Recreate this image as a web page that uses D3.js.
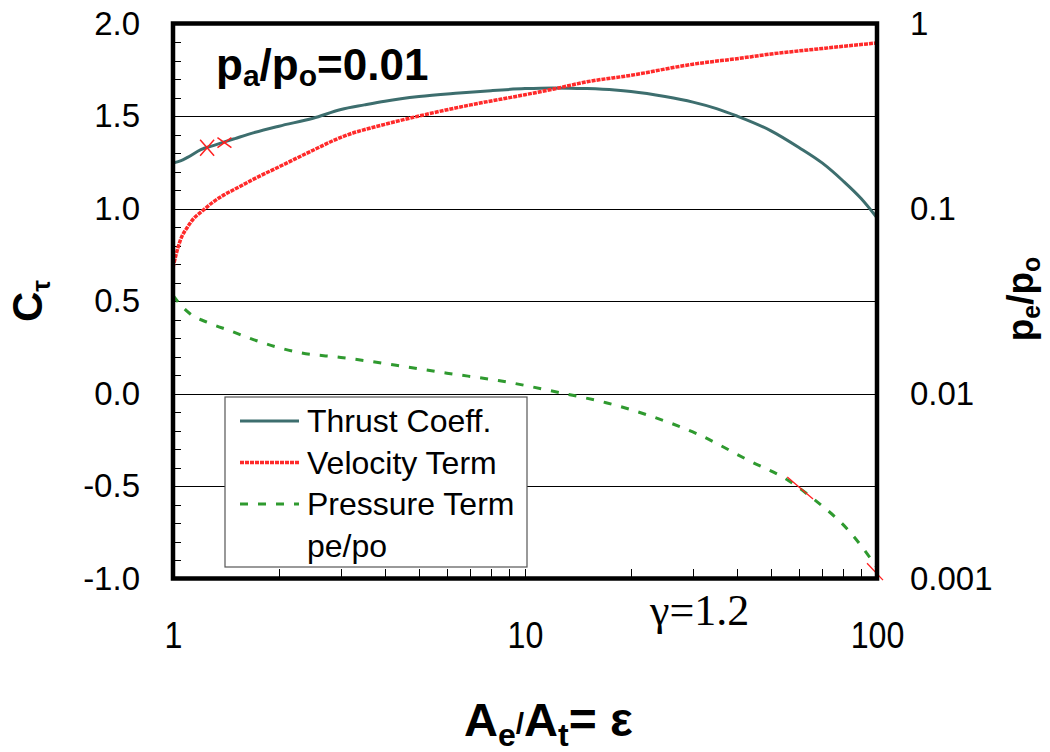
<!doctype html>
<html lang="en">
<head>
	<meta charset="UTF-8">
	<title>Thrust coefficient vs nozzle area ratio</title>
	<style>
		body {
			margin: 0;
			background: #fff;
		}

		svg text {
			font-family: "Liberation Sans", Arial, sans-serif;
			fill: #000;
		}

		.grid line {
			stroke: #000;
			stroke-width: 1;
			shape-rendering: crispEdges;
		}

		.minor line {
			stroke: #000;
			stroke-width: 1;
			shape-rendering: crispEdges;
		}

		.curve {
			fill: none;
			stroke-linejoin: round;
		}
	</style>
</head>
<body>
	<script src="https://cdn.jsdelivr.net/npm/d3@7/dist/d3.min.js"></script>
	<script>
		// ====== data
		var thrustEps = [1, 1.05, 1.1, 1.2, 1.3, 1.4, 1.5, 1.7, 2, 2.5, 3, 3.5, 4, 5, 6.5, 8, 10, 12, 15, 18, 20, 25, 30, 35, 40, 50, 60, 70, 80, 90, 100];
		var thrustCoeff = [1.246, 1.257, 1.276, 1.318, 1.34, 1.36, 1.378, 1.41, 1.445, 1.488, 1.535, 1.56, 1.58, 1.605, 1.624, 1.637, 1.648, 1.652, 1.648, 1.64, 1.632, 1.605, 1.575, 1.54, 1.5, 1.42, 1.33, 1.245, 1.15, 1.055, 0.95];

		var velocityEps = [1, 1.02, 1.05, 1.1, 1.15, 1.2, 1.3, 1.4, 1.5, 1.7, 2, 2.5, 3, 4, 5, 7, 10, 12, 15, 20, 30, 40, 50, 70, 100];
		var velocityTerm = [0.68, 0.75, 0.83, 0.9, 0.95, 0.98, 1.035, 1.075, 1.105, 1.16, 1.225, 1.315, 1.385, 1.455, 1.5, 1.56, 1.615, 1.645, 1.685, 1.72, 1.78, 1.81, 1.835, 1.865, 1.895];

		var pressureEps = [1, 1.05, 1.12, 1.27, 1.45, 1.7, 2.3, 3, 4.4, 6, 8.4, 12.9, 17, 22.6, 31, 43, 56, 66, 83, 100];
		var pressureTerm = [0.53, 0.48, 0.43, 0.38, 0.34, 0.29, 0.22, 0.195, 0.15, 0.11, 0.07, 0, -0.05, -0.12, -0.22, -0.36, -0.47, -0.57, -0.74, -0.94];

		// pe/po only shows up as a few markers and short pieces
		var peMarkEps = [1.25, 1.4];
		var peMarkRatio = [0.213, 0.227];
		var peSegEps = [[55.6, 65.8], [93.7, 104]];
		var peSegRatio = [[0.00354, 0.00269], [0.00121, 0.00098]];

		var leftTickValues = [-1, -0.5, 0, 0.5, 1, 1.5, 2];
		var leftTickLabels = ['-1.0', '-0.5', '0.0', '0.5', '1.0', '1.5', '2.0'];
		var rightTickValues = [0.001, 0.01, 0.1, 1];
		var rightTickLabels = ['0.001', '0.01', '0.1', '1'];
		var xTickValues = [1, 10, 100];
		var xTickLabels = ['1', '10', '100'];
		var gridValues = [-0.5, 0, 0.5, 1, 1.5];

		var legendLabels = ['Thrust Coeff.', 'Velocity Term', 'Pressure Term', 'pe/po'];

		var w = 1050,
			h = 752,
			plotLeft = 173,
			plotRight = 877,
			plotTop = 23.5,
			plotBottom = 578.5;

		var svg = d3.select('body')
			.append('svg')
			.attr('width', w)
			.attr('height', h);

		var xScale = d3.scaleLog()
			.domain([1, 100])
			.range([plotLeft, plotRight]);

		var yLeft = d3.scaleLinear()
			.domain([-1, 2])
			.range([plotBottom, plotTop]);

		var yRight = d3.scaleLog()
			.domain([0.001, 1])
			.range([plotBottom, plotTop]);

		var seriesStyles = [
			{ color: '#3d6e6e', width: 3, dash: null },
			{ color: '#ff2a2a', width: 3.5, dash: '4,1' },
			{ color: '#2f9a2f', width: 3, dash: '8,10' }
		];


		/**
		* zip two arrays into [x, y] pairs
		* @returns {Array}
		*/
		var zip = function(a, b) {
			return a.map(function(d, i) {
				return [d, b[i]];
			});
		};


		/**
		* append text built from pieces [text, size, dy, weight]
		* @returns {d3 selection}
		*/
		var richText = function(parent, pieces) {
			var text = parent.append('text');
			pieces.forEach(function(p) {
				text.append('tspan')
					.attr('font-size', p[1])
					.attr('dy', p[2])
					.attr('font-weight', p[3] || 'normal')
					.text(p[0]);
			});
			return text;
		};


		/**
		* grid lines and minor ticks
		* @returns {undefined}
		*/
		var drawGrid = function() {
			svg.append('g')
				.attr('class', 'grid')
				.attr('transform', 'translate(' + plotLeft + ',0)')
				.call(d3.axisLeft(yLeft)
					.tickValues(gridValues)
					.tickSize(-(plotRight - plotLeft))
					.tickFormat(''))
				.call(function(g) { g.select('.domain').remove(); });

			svg.append('g')
				.attr('class', 'minor')
				.attr('transform', 'translate(' + plotLeft + ',0)')
				.call(d3.axisLeft(yLeft)
					.tickValues(d3.range(-10, 21).map(function(d) { return d / 10; }))
					.tickSize(-8)
					.tickFormat(''))
				.call(function(g) { g.select('.domain').remove(); });

			var xMinor = [];
			[1, 10].forEach(function(dec) {
				for (var k = 2; k <= 10; k++) {
					xMinor.push(k * dec);
				}
			});

			svg.append('g')
				.attr('class', 'minor')
				.attr('transform', 'translate(0,' + plotBottom + ')')
				.call(d3.axisBottom(xScale)
					.tickValues(xMinor)
					.tickSize(-10)
					.tickFormat(''))
				.call(function(g) { g.select('.domain').remove(); });
		};


		/**
		* axis tick labels
		* @returns {undefined}
		*/
		var drawAxes = function() {
			var left = svg.append('g')
				.attr('transform', 'translate(' + plotLeft + ',0)')
				.call(d3.axisLeft(yLeft)
					.tickValues(leftTickValues)
					.tickSize(0)
					.tickPadding(33)
					.tickFormat(function(d, i) { return leftTickLabels[i]; }));

			var right = svg.append('g')
				.attr('transform', 'translate(' + plotRight + ',0)')
				.call(d3.axisRight(yRight)
					.tickValues(rightTickValues)
					.tickSize(0)
					.tickPadding(33)
					.tickFormat(function(d, i) { return rightTickLabels[i]; }));

			var bottom = svg.append('g')
				.attr('transform', 'translate(0,' + plotBottom + ')')
				.call(d3.axisBottom(xScale)
					.tickValues(xTickValues)
					.tickSize(0)
					.tickPadding(43)
					.tickFormat(function(d, i) { return xTickLabels[i]; }));

			[left, right, bottom].forEach(function(g) {
				g.select('.domain').remove();
				g.selectAll('text')
					.attr('font-size', 33)
					.attr('fill', '#000');
			});

			bottom.selectAll('text')
				.attr('font-size', 37)
				.attr('transform', 'scale(0.87,1)');
		};


		/**
		* draw the three curves and the pe/po pieces
		* @returns {undefined}
		*/
		var drawCurves = function() {
			var line = d3.line()
				.x(function(d) { return xScale(d[0]); })
				.y(function(d) { return yLeft(d[1]); })
				.curve(d3.curveMonotoneX);

			var series = [
				zip(thrustEps, thrustCoeff),
				zip(velocityEps, velocityTerm),
				zip(pressureEps, pressureTerm)
			];

			svg.selectAll('path.curve')
				.data(series)
				.enter()
				.append('path')
				.attr('class', 'curve')
				.attr('d', line)
				.attr('stroke', function(d, i) { return seriesStyles[i].color; })
				.attr('stroke-width', function(d, i) { return seriesStyles[i].width; })
				.attr('stroke-dasharray', function(d, i) { return seriesStyles[i].dash; });

			var peLine = d3.line()
				.x(function(d) { return xScale(d[0]); })
				.y(function(d) { return yRight(d[1]); });

			svg.selectAll('path.pe-seg')
				.data(peSegEps.map(function(e, i) { return zip(e, peSegRatio[i]); }))
				.enter()
				.append('path')
				.attr('class', 'pe-seg')
				.attr('d', peLine)
				.attr('fill', 'none')
				.attr('stroke', '#ff2020')
				.attr('stroke-width', 1.3);

			svg.selectAll('path.pe-mark')
				.data(zip(peMarkEps, peMarkRatio))
				.enter()
				.append('path')
				.attr('class', 'pe-mark')
				.attr('transform', function(d) {
					return 'translate(' + xScale(d[0]) + ',' + yRight(d[1]) + ')';
				})
				.attr('d', function(d, i) {
					return i === 0 ? 'M-7,-8L7,8M-7,8L7,-8' : 'M-7,-5L7,5M-7,5L7,-5';
				})
				.attr('fill', 'none')
				.attr('stroke', '#ff2020')
				.attr('stroke-width', 1.5);
		};


		/**
		* legend box
		* @returns {undefined}
		*/
		var drawLegend = function() {
			var g = svg.append('g');

			g.append('rect')
				.attr('x', 225)
				.attr('y', 397)
				.attr('width', 302)
				.attr('height', 170)
				.attr('fill', '#fff')
				.attr('stroke', '#555')
				.attr('stroke-width', 1.2);

			var rows = g.selectAll('g.row')
				.data(legendLabels)
				.enter()
				.append('g')
				.attr('class', 'row')
				.attr('transform', function(d, i) {
					return 'translate(0,' + (421 + i * 41.5) + ')';
				});

			rows.filter(function(d, i) { return i < seriesStyles.length; })
				.append('line')
				.attr('x1', 240)
				.attr('x2', 299)
				.attr('stroke', function(d, i) { return seriesStyles[i].color; })
				.attr('stroke-width', function(d, i) { return seriesStyles[i].width; })
				.attr('stroke-dasharray', function(d, i) { return seriesStyles[i].dash; });

			rows.append('text')
				.attr('x', 307)
				.attr('y', 11)
				.attr('font-size', 32)
				.text(function(d) { return d; });
		};


		/**
		* frame, titles and notes
		* @returns {undefined}
		*/
		var drawLabels = function() {
			svg.append('rect')
				.attr('x', plotLeft)
				.attr('y', plotTop)
				.attr('width', plotRight - plotLeft)
				.attr('height', plotBottom - plotTop)
				.attr('fill', 'none')
				.attr('stroke', '#000')
				.attr('stroke-width', 4.5);

			richText(svg, [
				['p', 44, 0, 'bold'], ['a', 30, 6, 'bold'], ['/', 44, -6, 'bold'],
				['p', 44, 0, 'bold'], ['o', 30, 6, 'bold'], ['=0.01', 44, -6, 'bold']
			]).attr('x', 216).attr('y', 80);

			// subscript tau sits toward +x once rotated
			richText(svg, [['C', 42, 0, 'bold'], ['\u03c4', 26, 8, 'bold']])
				.attr('text-anchor', 'middle')
				.attr('transform', 'translate(42,301) rotate(-90)');

			richText(svg, [
				['p', 37, 0, 'bold'], ['e', 25, 7, 'bold'], ['/', 37, -7, 'bold'],
				['p', 37, 0, 'bold'], ['o', 25, 7, 'bold']
			])
				.attr('text-anchor', 'middle')
				.attr('transform', 'translate(1033,299) rotate(-90)');

			richText(svg, [
				['A', 47, 0, 'bold'], ['e', 32, 10, 'bold'], ['/', 30, -12, 'bold'],
				['A', 47, 2, 'bold'], ['t', 32, 10, 'bold'], ['=\u00a0\u03b5', 48, -10, 'bold']
			]).attr('x', 464).attr('y', 736);

			svg.append('text')
				.attr('x', 650)
				.attr('y', 625)
				.attr('font-size', 44)
				.style('font-family', '"Liberation Serif", "Times New Roman", serif')
				.text('\u03b3=1.2');
		};


		drawGrid();
		drawCurves();
		drawLegend();
		drawAxes();
		drawLabels();
	</script>
</body>
</html>
